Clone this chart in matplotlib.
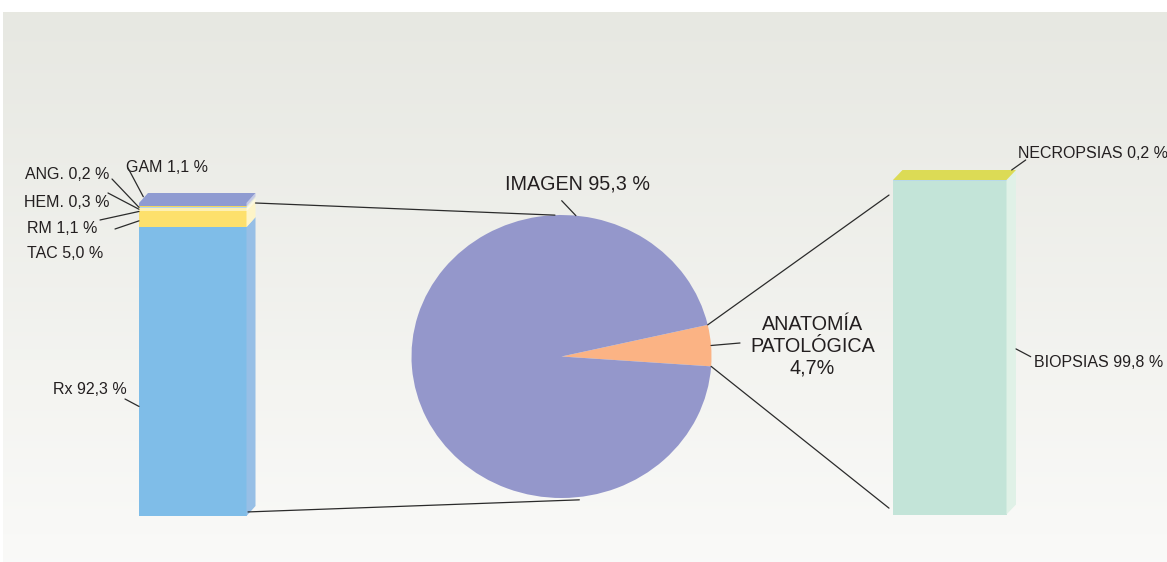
import numpy as np
import matplotlib
matplotlib.use('Agg')
import matplotlib.pyplot as plt
from matplotlib.patches import Polygon, ConnectionPatch

plt.rcParams['font.family'] = ['Liberation Sans', 'DejaVu Sans']

# datos
imagen_labels = ['Rx', 'TAC', 'RM', 'HEM.', 'ANG.', 'GAM']
imagen_values = [92.3, 5.0, 1.1, 0.3, 0.2, 1.1]
pie_labels = ['ANATOMÍA\nPATOLÓGICA', 'IMAGEN']
pie_values = [4.7, 95.3]
anat_labels = ['BIOPSIAS', 'NECROPSIAS']
anat_values = [99.8, 0.2]

imagen_colors = ['#7fbde8', '#fde06c', '#fdf0b4', '#b5d6ee', '#f3d75c', '#8f9bd1']
imagen_sides = ['#97bfe6', '#fdf4c8', '#fef8dc', '#d8e9f5', '#faedb0', '#c5cbe8']
anat_colors = ['#c3e4d8', '#b9d9e9']
anat_sides = ['#e0f1e7', '#e0f1e7']
pie_colors = ['#fbb384', '#9497cb']

W, H = 1167, 562
TXT = '#231f20'
LINE = '#2b2b2b'


def fmt(v):
    return f'{v:.1f}'.replace('.', ',')


fig = plt.figure(figsize=(W / 100, H / 100), dpi=100)


def px_axes(x0, y0, x1, y1):
    # caja en pixeles, y medida desde arriba
    ax = fig.add_axes([x0 / W, 1 - y1 / H, (x1 - x0) / W, (y1 - y0) / H])
    ax.patch.set_alpha(0)
    ax.axis('off')
    return ax


def bar3d(ax, values, colors, sides, top_color, width, dx, dy):
    bottoms = np.concatenate([[0], np.cumsum(values)[:-1]])
    ax.bar(0, values, width, bottom=bottoms, color=colors, align='edge', linewidth=0)
    for b, v, sc in zip(bottoms, values, sides):
        ax.add_patch(Polygon([(width, b), (width + dx, b + dy), (width + dx, b + v + dy), (width, b + v)],
                             closed=True, color=sc, lw=0))
    total = sum(values)
    ax.add_patch(Polygon([(0, total), (dx, total + dy), (width + dx, total + dy), (width, total)],
                         closed=True, color=top_color, lw=0))
    return total


# fondo degradado
bg = fig.add_axes([0, 0, 1, 1])
grad = np.linspace(0, 1, 256)[:, None, None]
c_top = np.array([0.906, 0.910, 0.886])
c_bot = np.array([0.980, 0.980, 0.973])
bg.imshow(c_top + (c_bot - c_top) * grad, extent=[3, W, 562, 12], aspect='auto', zorder=0)
bg.set_xlim(0, W)
bg.set_ylim(H, 0)
bg.axis('off')

# barra izquierda (IMAGEN)
sl = 3.13
wl, dxl, dyl = 107.5, 9, 10 / sl
ax_l = px_axes(139, 180, 270, 516)
ax_l.set_xlim(0, 131)
ax_l.set_ylim(0, (516 - 180) / sl)
tot_l = bar3d(ax_l, imagen_values, imagen_colors, imagen_sides, '#8f9bd1', wl, dxl, dyl)

# barra derecha (ANATOMÍA PATOLÓGICA)
sr = 3.345
wr, dxr, dyr = 113.5, 9.5, 10 / sr
ax_r = px_axes(893, 160, 1030, 514.5)
ax_r.set_xlim(0, 137)
ax_r.set_ylim(0, (514.5 - 160) / sr)
tot_r = bar3d(ax_r, anat_values, anat_colors, anat_sides, '#dcdb55', wr, dxr, dyr)

# tarta
ax_p = px_axes(411.5, 215, 711.5, 498)
wedges, _ = ax_p.pie(pie_values, colors=pie_colors, startangle=-4, counterclock=True,
                     radius=1, wedgeprops=dict(linewidth=0))
ax_p.set_aspect('auto')
ax_p.set_xlim(-1, 1)
ax_p.set_ylim(-1, 1)


def pie_pt(deg, r=1.0):
    return (r * np.cos(np.radians(deg)), r * np.sin(np.radians(deg)))


def link(xyA, axA, xyB, axB):
    con = ConnectionPatch(xyA, xyB, coordsA=axA.transData, coordsB=axB.transData,
                          color=LINE, lw=0.9)
    fig.add_artist(con)


th1, th2 = wedges[0].theta1, wedges[0].theta2
link((wl + dxl, tot_l), ax_l, pie_pt(92.5), ax_p)
link((wl + 1.5, 1.3), ax_l, pie_pt(-83.3, 1.02), ax_p)
link(pie_pt(th2), ax_p, (-4, 95.5), ax_r)
link(pie_pt(th1), ax_p, (-4, 1.9), ax_r)

# etiquetas de la barra izquierda
left_text_xy = [(53, 394), (27, 257.7), (27, 232.7), (24, 207.3), (25, 179), (126, 171.7)]
left_lead_start = [(125, 399), (115, 229), (100, 220), (108, 193), (112, 179), (128, 168)]
left_lead_end = [(0, 35), (0, 94.3), (0, 97.3), (0, 98.0), (0, 98.6), (4.3, 102)]
for name, v, (tx, ty), s, e in zip(imagen_labels, imagen_values, left_text_xy,
                                   left_lead_start, left_lead_end):
    bg.text(tx, ty, f'{name} {fmt(v)} %', fontsize=11.5, color=TXT, ha='left', va='baseline')
    link(s, bg, e, ax_l)

# etiquetas de la barra derecha
right_text_xy = [(1034, 366.7), (1018, 158)]
right_lead_start = [(1030.7, 356.7), (1025.7, 160)]
right_lead_end = [(wr + dxr, 49.5), (118.7, 103)]
for name, v, (tx, ty), s, e in zip(anat_labels, anat_values, right_text_xy,
                                   right_lead_start, right_lead_end):
    bg.text(tx, ty, f'{name} {fmt(v)} %', fontsize=11.5, color=TXT, ha='left', va='baseline')
    link(s, bg, e, ax_r)

# etiquetas de la tarta
bg.text(577.5, 190, f'{pie_labels[1]} {fmt(pie_values[1])} %', fontsize=14.2, color=TXT,
        ha='center', va='baseline')
link((561.7, 200.7), bg, pie_pt(84.5), ax_p)
bg.text(812.5, 373.3, f'{pie_labels[0]}\n{fmt(pie_values[0])}%', fontsize=14.2, color=TXT,
        ha='center', va='baseline', multialignment='center', linespacing=1.17)
link(pie_pt((th1 + th2) / 2), ax_p, (740, 343), bg)

fig.savefig('out.png', dpi=100, facecolor='white')
